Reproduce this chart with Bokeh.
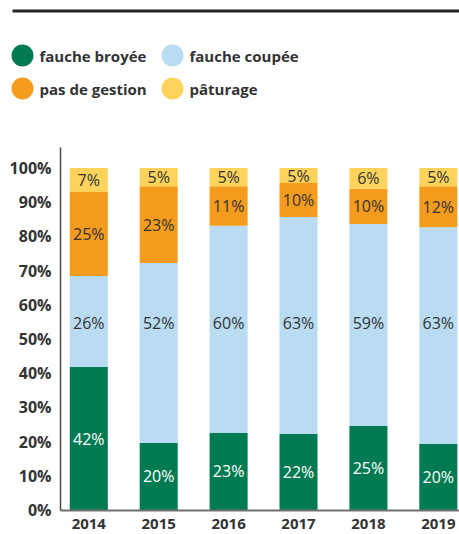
from bokeh.plotting import figure
from bokeh.models import ColumnDataSource, Range1d, FixedTicker, BoxAnnotation, Label, LinearAxis
from bokeh.core.properties import value
from bokeh.embed import file_html
from bokeh.resources import INLINE

# ---------------- data ----------------
years = ["2014", "2015", "2016", "2017", "2018", "2019"]
series_names = ["fauche broyée", "fauche coupée", "pas de gestion", "pâturage"]
broyee = [41.8, 19.6, 22.6, 22.2, 24.6, 19.3]
coupee = [26.6, 52.6, 60.5, 63.5, 59.0, 63.4]
gestion = [24.6, 22.5, 11.6, 9.9, 10.3, 12.0]
paturage = [7.0, 5.3, 5.3, 4.4, 6.1, 5.3]
broyee_labels = ["42%", "20%", "23%", "22%", "25%", "20%"]
coupee_labels = ["26%", "52%", "60%", "63%", "59%", "63%"]
gestion_labels = ["25%", "23%", "11%", "10%", "10%", "12%"]
paturage_labels = ["7%", "5%", "5%", "5%", "6%", "5%"]
y_ticks = [0, 10, 20, 30, 40, 50, 60, 70, 80, 90, 100]

# ---------------- style ----------------
colors = ["#007A53", "#B9DCF3", "#F59C1E", "#FDD35C"]
label_colors = ["white", "#333333", "#333333", "#333333"]
FONT = "Open Sans"
TXT = "#333333"

W, H = 459, 534
X0, X1 = -1.263, 5.303      # x range (category index units)
Y0, Y1 = -7.16, 148.98      # y range (percent)
AXIS_X = -0.405             # where the value axis sits

p = figure(width=W, height=H, output_backend="svg", toolbar_location=None,
           x_range=Range1d(X0, X1), y_range=Range1d(Y0, Y1),
           x_axis_location=None, y_axis_location=None, min_border=0)
p.grid.visible = False
p.outline_line_color = None

# ---------------- stacked bars ----------------
xs = list(range(len(years)))
series = [broyee, coupee, gestion, paturage]
labels = [broyee_labels, coupee_labels, gestion_labels, paturage_labels]
bottoms = [0.0] * len(years)
for k, vals in enumerate(series):
    tops = [b + v for b, v in zip(bottoms, vals)]
    if k == 1:
        ly = [54.7] * len(years)
    else:
        ly = [(b + t) / 2 for b, t in zip(bottoms, tops)]
    src = ColumnDataSource(dict(x=xs, bottom=bottoms, top=tops, ly=ly, lab=labels[k]))
    p.vbar(x="x", bottom="bottom", top="top", width=0.544, source=src,
           fill_color=colors[k], line_color=None)
    p.text(x="x", y="ly", text="lab", source=src, text_font=value(FONT),
           text_font_size="16px", text_color=label_colors[k],
           text_align="center", text_baseline="middle")
    bottoms = tops

# ---------------- axes (fixed inside the frame) ----------------
xa = LinearAxis(fixed_location=0, bounds=(AXIS_X, X1),
                ticker=FixedTicker(ticks=xs),
                major_label_overrides={i: y for i, y in enumerate(years)})
ya = LinearAxis(fixed_location=AXIS_X, bounds=(0, 106),
                ticker=FixedTicker(ticks=y_ticks),
                major_label_overrides={t: f"{t}%" for t in y_ticks})
for ax in (xa, ya):
    ax.major_tick_out = 0
    ax.major_tick_in = 0
    ax.minor_tick_out = 0
    ax.minor_tick_in = 0
    ax.major_label_text_font = FONT
    ax.major_label_text_font_style = "bold"
    ax.major_label_text_color = TXT
xa.major_label_text_font_size = "15px"
ya.major_label_text_font_size = "16px"
xa.axis_line_color = "#707070"
xa.axis_line_width = 2
xa.major_label_standoff = 9
ya.axis_line_color = "#4d4d4d"
ya.axis_line_width = 1.5
ya.major_label_standoff = 9
p.add_layout(xa, "below")
p.add_layout(ya, "left")

# ---------------- header: rule + legend (screen units) ----------------
def sy(page_y):
    return H - page_y

p.add_layout(BoxAnnotation(left=12, right=W, bottom=sy(12), top=sy(9),
                           left_units="screen", right_units="screen",
                           bottom_units="screen", top_units="screen",
                           fill_color="#222222", fill_alpha=1, line_color=None))
leg_cx = [22, 172, 22, 172]
leg_cy = [sy(55), sy(55), sy(88), sy(88)]
R = 11
for name, c, cx, cy in zip(series_names, colors, leg_cx, leg_cy):
    p.add_layout(BoxAnnotation(left=cx - R, right=cx + R, bottom=cy - R, top=cy + R,
                               left_units="screen", right_units="screen",
                               bottom_units="screen", top_units="screen",
                               fill_color=c, fill_alpha=1, line_color=None,
                               border_radius=R))
    p.add_layout(Label(x=cx + 17, y=cy, x_units="screen", y_units="screen", text=name,
                       text_font=FONT, text_font_size="15px", text_font_style="bold",
                       text_color=TXT, text_baseline="middle", text_align="left"))

open("out.html", "w").write(file_html(p, INLINE))
